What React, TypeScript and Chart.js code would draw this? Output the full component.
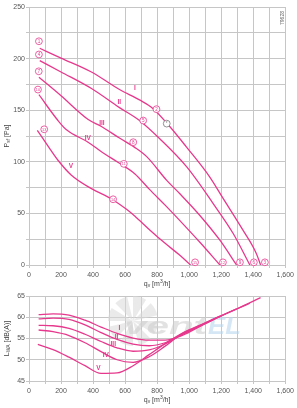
import React, { useEffect, useRef } from 'react';
import { Chart, registerables } from 'chart.js';
Chart.register(...registerables);

const PINK = '#e6398d';
const GRID = '#c6c6c6';
const TICK = '#555555';
const FONT = 'Liberation Sans';

// ---------- Top chart: static pressure P_sf [Pa] vs flow q_v [m3/h]
const curveNames = ['I', 'II', 'III', 'IV', 'V'];
const qI = [67, 200, 390, 565, 690, 775, 880, 985, 1130, 1210, 1335, 1420, 1446];
const pI = [210, 200.5, 187, 170, 160, 151.5, 134, 114, 85, 65, 34, 11, 0];
const qII = [67, 200, 390, 565, 690, 815, 985, 1150, 1275, 1379];
const pII = [198, 187, 171, 152.5, 140, 122.5, 95, 59.5, 30.5, 0];
const qIII = [62, 200, 370, 455, 565, 660, 735, 860, 942, 1067, 1192, 1296];
const pIII = [182, 164, 141, 134, 123, 114, 105, 82, 69, 48, 24, 0];
const qIV = [62, 181, 234, 369, 450, 560, 660, 754, 850, 942, 1067, 1192];
const pIV = [165, 140, 131, 119, 110, 99, 88.5, 73, 58, 43, 22, 0];
const qV = [52, 120, 181, 265, 390, 515, 609, 660, 754, 850, 942, 1009];
const pV = [130.5, 115, 101.5, 87, 74, 64, 54, 47.5, 34, 21, 9.4, 0];

// operating point markers (numbers in circles)
const pointNumbers = [1, 4, 7, 10, 13, 2, 5, 8, 11, 14, 3, 6, 9, 12, 15];
const pointQ = [62, 62, 61, 56, 95, 796, 713, 651, 592, 525, 1473, 1404, 1317, 1211, 1037];
const pointP = [216.8, 204, 187.7, 170, 131.5, 151, 140, 119, 98, 63.7, 2.6, 2.6, 2.6, 2.6, 2.6];
const grayMarkQ = 860;
const grayMarkP = 137;
const romanTopQ = [661, 564, 455, 367, 261];
const romanTopP = [171, 158, 137.5, 123, 96];

// ---------- Bottom chart: sound power L_WA [dB(A)] vs flow
const lqI = [60, 150, 250, 350, 450, 550, 650, 750, 850, 950, 1100, 1200, 1300, 1446];
const lI = [60.6, 60.8, 60.5, 59.3, 57.7, 56.2, 55.1, 54.6, 54.6, 55.6, 58.5, 60.3, 62.0, 64.6];
const lqII = [60, 150, 250, 350, 450, 550, 650, 750, 850, 950, 1100, 1200, 1300, 1379];
const lII = [59.6, 59.8, 59.5, 58.2, 56.4, 54.8, 53.7, 53.3, 54.0, 55.8, 58.5, 60.3, 62.0, 63.3];
const lqIII = [60, 150, 250, 350, 450, 550, 650, 750, 850, 950, 1100, 1200, 1296];
const lIII = [58.1, 58.0, 57.4, 56.0, 54.3, 52.8, 52.0, 52.3, 53.7, 55.9, 58.6, 60.4, 62.0];
const lqIV = [60, 150, 250, 350, 450, 550, 650, 750, 850, 950, 1100, 1192];
const lIV = [57.0, 56.6, 55.7, 54.0, 51.9, 50.0, 49.4, 50.7, 53.2, 56.0, 58.7, 60.3];
const lqV = [55, 150, 250, 350, 450, 550, 650, 750, 850, 950, 1009];
const lV = [53.6, 52.4, 50.6, 48.6, 46.8, 46.9, 48.6, 51.2, 53.8, 56.1, 57.2];
const romanBotQ = [564, 547, 526, 479, 433];
const romanBotL = [57.4, 55.4, 53.6, 51.1, 48.0];

const topSeries = [[qI, pI], [qII, pII], [qIII, pIII], [qIV, pIV], [qV, pV]];
const botSeries = [[lqI, lI], [lqII, lII], [lqIII, lIII], [lqIV, lIV], [lqV, lV]];

const fmt = (v: number) => v.toLocaleString('en-US');

type Part = { t: string; sub?: boolean; sup?: boolean };

function drawParts(ctx: CanvasRenderingContext2D, parts: Part[], cx: number, cy: number, rot: boolean) {
  ctx.save();
  ctx.translate(cx, cy);
  if (rot) ctx.rotate(-Math.PI / 2);
  const main = `7px ${FONT}`;
  const small = `5px ${FONT}`;
  let w = 0;
  for (const p of parts) {
    ctx.font = p.sub || p.sup ? small : main;
    w += ctx.measureText(p.t).width;
  }
  let x = -w / 2;
  ctx.fillStyle = '#444';
  ctx.textBaseline = 'middle';
  ctx.textAlign = 'left';
  for (const p of parts) {
    ctx.font = p.sub || p.sup ? small : main;
    const dy = p.sub ? 2 : p.sup ? -2 : 0;
    ctx.fillText(p.t, x, dy);
    x += ctx.measureText(p.t).width;
  }
  ctx.restore();
}

const qTitle: Part[] = [{ t: 'q' }, { t: 'v', sub: true }, { t: ' [m' }, { t: '3', sup: true }, { t: '/h]' }];

function circled(ctx: CanvasRenderingContext2D, x: number, y: number, label: string, color: string) {
  ctx.beginPath();
  ctx.arc(x, y, 3.4, 0, Math.PI * 2);
  ctx.fillStyle = '#fff';
  ctx.fill();
  ctx.lineWidth = 0.8;
  ctx.strokeStyle = color;
  ctx.stroke();
  ctx.fillStyle = color;
  ctx.font = `${label.length > 1 ? 3.8 : 4.6}px ${FONT}`;
  ctx.textAlign = 'center';
  ctx.textBaseline = 'middle';
  ctx.fillText(label, x, y + 0.3);
}

const topPlugin = {
  id: 'topDecor',
  afterDatasetsDraw(chart: any) {
    const { ctx, scales } = chart;
    const xs = scales.x, ys = scales.y;
    ctx.save();
    pointNumbers.forEach((n, i) => {
      circled(ctx, xs.getPixelForValue(pointQ[i]), ys.getPixelForValue(pointP[i]), String(n), PINK);
    });
    circled(ctx, xs.getPixelForValue(grayMarkQ), ys.getPixelForValue(grayMarkP), '*', '#777');
    ctx.font = `bold 6.5px ${FONT}`;
    ctx.fillStyle = PINK;
    ctx.textAlign = 'center';
    ctx.textBaseline = 'middle';
    curveNames.forEach((n, i) => {
      ctx.fillText(n, xs.getPixelForValue(romanTopQ[i]), ys.getPixelForValue(romanTopP[i]));
    });
    ctx.restore();
  },
  afterDraw(chart: any) {
    const { ctx, chartArea } = chart;
    drawParts(ctx, qTitle, (chartArea.left + chartArea.right) / 2, 284, false);
    drawParts(ctx, [{ t: 'P' }, { t: 'sf', sub: true }, { t: ' [Pa]' }], 7, (chartArea.top + chartArea.bottom) / 2, true);
    ctx.save();
    ctx.translate(283, 18);
    ctx.rotate(-Math.PI / 2);
    ctx.font = `5px ${FONT}`;
    ctx.fillStyle = '#666';
    ctx.textAlign = 'center';
    ctx.textBaseline = 'middle';
    ctx.fillText('79628', 0, 0);
    ctx.restore();
  },
};

const botPlugin = {
  id: 'botDecor',
  beforeDatasetsDraw(chart: any) {
    const { ctx } = chart;
    ctx.save();
    // watermark fan
    const cx = 133, cy = 31, r = 25;
    ctx.globalAlpha = 0.55;
    ctx.fillStyle = '#d9d9d9';
    for (let i = 0; i < 8; i++) {
      const a = (i * Math.PI * 2) / 8;
      ctx.beginPath();
      ctx.moveTo(cx, cy);
      ctx.arc(cx, cy, r, a, a + 0.55);
      ctx.closePath();
      ctx.fill();
    }
    // watermark word
    ctx.globalAlpha = 0.6;
    ctx.font = `italic bold 24px ${FONT}`;
    ctx.textBaseline = 'alphabetic';
    ctx.textAlign = 'left';
    const w1 = ctx.measureText('vent').width;
    ctx.save();
    ctx.translate(124, 44);
    ctx.scale(83 / w1, 1);
    ctx.fillStyle = '#cfcfcf';
    ctx.fillText('vent', 0, 0);
    ctx.restore();
    const w2 = ctx.measureText('EL').width;
    ctx.save();
    ctx.translate(208, 44);
    ctx.scale(33 / w2, 1);
    ctx.fillStyle = '#b9d6ee';
    ctx.fillText('EL', 0, 0);
    ctx.restore();
    ctx.restore();
  },
  afterDatasetsDraw(chart: any) {
    const { ctx, scales } = chart;
    ctx.save();
    ctx.font = `bold 6.5px ${FONT}`;
    ctx.fillStyle = PINK;
    ctx.textAlign = 'center';
    ctx.textBaseline = 'middle';
    curveNames.forEach((n, i) => {
      ctx.fillText(n, scales.x.getPixelForValue(romanBotQ[i]), scales.y.getPixelForValue(romanBotL[i]));
    });
    ctx.restore();
  },
  afterDraw(chart: any) {
    const { ctx, chartArea } = chart;
    drawParts(ctx, qTitle, (chartArea.left + chartArea.right) / 2, 110, false);
    drawParts(ctx, [{ t: 'L' }, { t: 'WA', sub: true }, { t: ' [dB(A)]' }], 7, (chartArea.top + chartArea.bottom) / 2, true);
  },
};

function makeDatasets(series: number[][][]) {
  return series.map((s, i) => ({
    label: curveNames[i],
    data: s[0].map((q, j) => ({ x: q, y: s[1][j] })),
    borderColor: PINK,
    borderWidth: 1.3,
    pointRadius: 0,
    fill: false,
    cubicInterpolationMode: 'monotone' as const,
  }));
}

function baseScales(yMin: number, yMax: number, yStep: number, yLabelEvery: number, xHeight: number) {
  return {
    x: {
      type: 'linear' as const,
      min: 0,
      max: 1600,
      afterFit: (s: any) => { s.height = xHeight; },
      ticks: {
        stepSize: 100,
        autoSkip: false,
        maxRotation: 0,
        padding: 3,
        color: TICK,
        font: { size: 7, family: FONT },
        callback: (v: any) => (Number(v) % 200 === 0 ? fmt(Number(v)) : ''),
      },
      grid: { color: GRID, lineWidth: 1, tickLength: 3 },
      border: { color: GRID },
    },
    y: {
      min: yMin,
      max: yMax,
      afterFit: (s: any) => { s.width = 29; },
      ticks: {
        stepSize: yStep,
        autoSkip: false,
        padding: 1,
        color: TICK,
        font: { size: 7, family: FONT },
        callback: (v: any) => (Number(v) % yLabelEvery === 0 ? String(v) : ''),
      },
      grid: { color: GRID, lineWidth: 1, tickLength: 3 },
      border: { color: GRID },
    },
  };
}

export default function App() {
  const topRef = useRef<HTMLCanvasElement>(null);
  const botRef = useRef<HTMLCanvasElement>(null);

  useEffect(() => {
    const top = new Chart(topRef.current!, {
      type: 'line',
      data: { datasets: makeDatasets(topSeries) },
      options: {
        responsive: false,
        animation: false,
        devicePixelRatio: 1,
        layout: { padding: { top: 7, right: 11, left: 0, bottom: 0 } },
        plugins: { legend: { display: false }, tooltip: { enabled: false } },
        scales: baseScales(0, 250, 25, 50, 25) as any,
      },
      plugins: [topPlugin],
    });
    const bot = new Chart(botRef.current!, {
      type: 'line',
      data: { datasets: makeDatasets(botSeries) },
      options: {
        responsive: false,
        animation: false,
        devicePixelRatio: 1,
        layout: { padding: { top: 6, right: 11, left: 0, bottom: 0 } },
        plugins: { legend: { display: false }, tooltip: { enabled: false } },
        scales: baseScales(45, 65, 5, 5, 27) as any,
      },
      plugins: [botPlugin],
    });
    return () => {
      top.destroy();
      bot.destroy();
    };
  }, []);

  return (
    <div style={{ position: 'absolute', left: 0, top: 0, width: 297, height: 408, background: '#fff' }}>
      <canvas ref={topRef} width={297} height={290} style={{ display: 'block' }} />
      <canvas ref={botRef} width={297} height={118} style={{ display: 'block' }} />
    </div>
  );
}
